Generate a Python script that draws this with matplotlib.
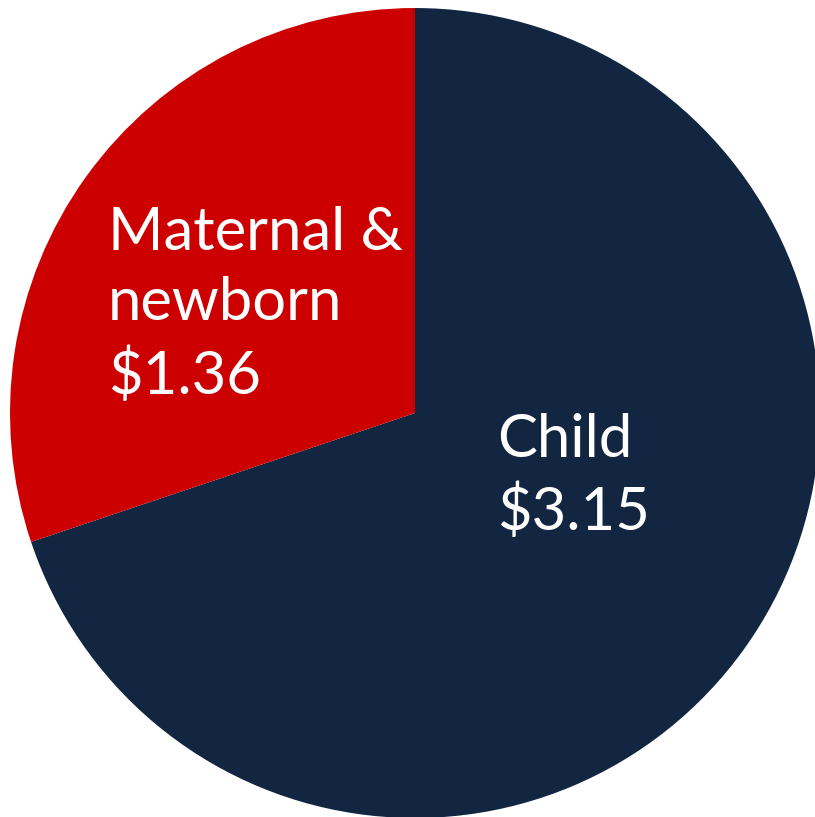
import matplotlib.pyplot as plt

plt.rcParams["font.family"] = ["Lato", "DejaVu Sans"]

labels = ["Child", "Maternal &\nnewborn"]
values = [3.15, 1.36]
colors = ["#122642", "#CC0000"]

fig = plt.figure(figsize=(8.15, 8.17), dpi=100)
ax = fig.add_axes([0, 0, 1, 1])

ax.pie(
    values,
    colors=colors,
    startangle=90,
    counterclock=False,
    radius=1.0,
    wedgeprops={"linewidth": 0},
)
ax.set_aspect("equal")
ax.set_xlim(-1.0247, 0.9877)
ax.set_ylim(-0.9975, 1.0198)
ax.axis("off")

# wedge labels with dollar values
label_pos = [(0.202, 0.0), (-0.758, 0.51)]
for lab, val, (x, y) in zip(labels, values, label_pos):
    ax.text(
        x, y, f"{lab}\n${val:.2f}",
        color="white", fontsize=43, ha="left", va="top", linespacing=1.36,
    )

plt.savefig("out.png", dpi=100)
plt.close()
